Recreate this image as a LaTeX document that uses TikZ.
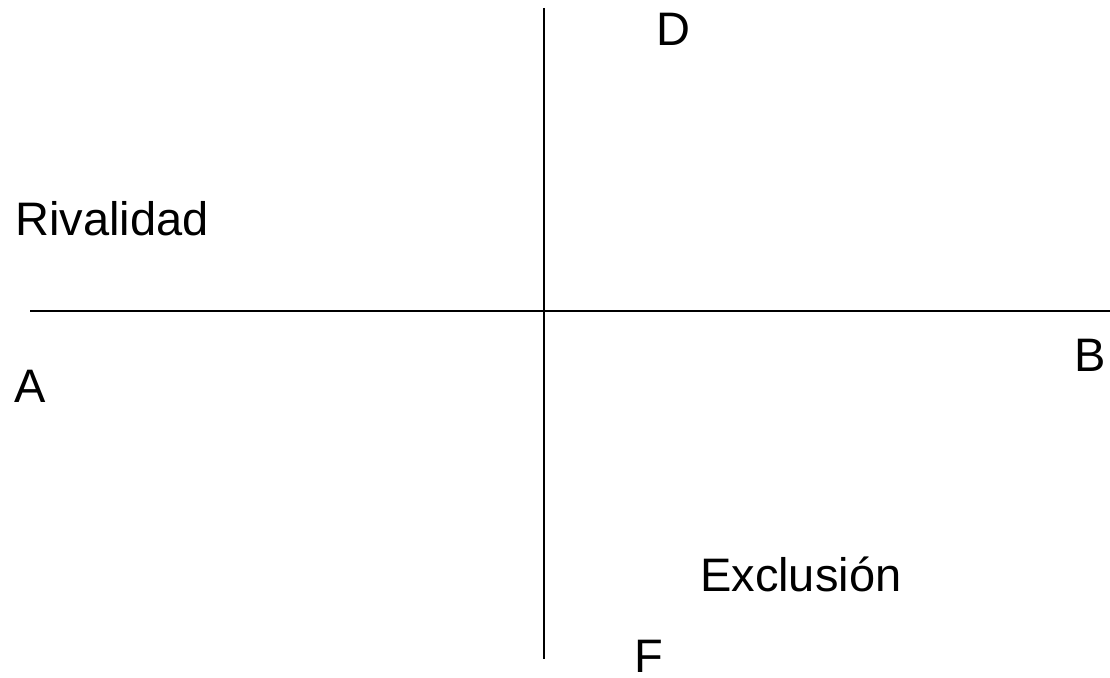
\documentclass[tikz,border=0pt]{standalone}
\usepackage{fontspec}
\setmainfont{Liberation Sans}
\tikzset{
  lbl/.style={anchor=base west, inner sep=0pt, font=\fontsize{47}{56}\selectfont},
  axis/.style={line width=2pt, black}
}
\begin{document}
\begin{tikzpicture}[x=1pt,y=-1pt]
\useasboundingbox (0,0) rectangle (1110,677);
\coordinate (vt) at (544,8);
\coordinate (vb) at (544,659);
\coordinate (hl) at (30,311);
\coordinate (hr) at (1110,311);
\draw[axis] (vt) -- (vb);
\draw[axis] (hl) -- (hr);
\node[lbl] (D) at (656,46) {D};
\node[lbl] (riv) at (15,235) {Rivalidad};
\node[lbl] (B) at (1074,371) {B};
\node[lbl] (A) at (14,402) {A};
\node[lbl] (exc) at (700,591) {Exclusión};
\node[lbl] (F) at (634,672) {F};
\end{tikzpicture}
\end{document}
